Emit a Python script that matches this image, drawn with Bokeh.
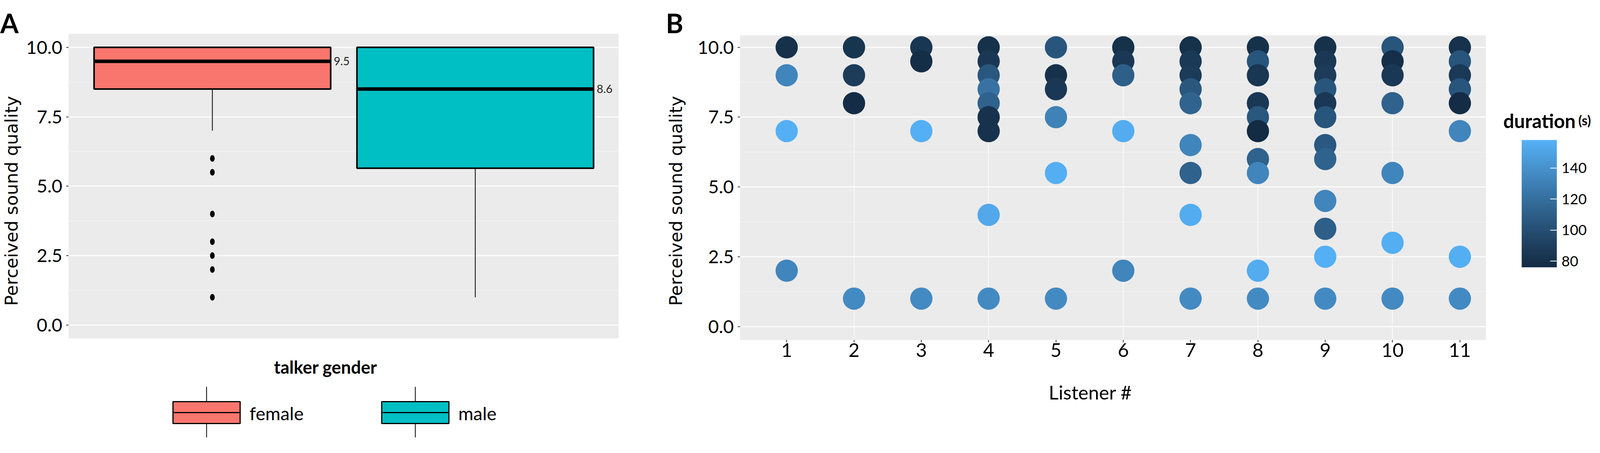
import numpy as np
from bokeh.plotting import figure
from bokeh.models import (Range1d, FixedTicker, PrintfTickFormatter, ColumnDataSource,
                          LinearColorMapper, ColorBar)
from bokeh.layouts import row, column
from bokeh.embed import file_html
from bokeh.resources import INLINE
from bokeh.core.properties import value
from bokeh.transform import transform

# ---------------- Panel A data (box plot summary) ----------------
genders = ["female", "male"]
box_colors = ["#F8766D", "#00BFC4"]
q1 = [8.5, 5.65]
medians = [9.5, 8.5]
q3 = [10.0, 10.0]
whisker_low = [7.0, 1.0]
whisker_high = [10.0, 10.0]
median_labels = ["9.5", "8.6"]
female_outliers = [6.0, 5.5, 4.0, 3.0, 2.5, 2.0, 1.0]

# ---------------- Panel B data ----------------
listener = [1, 1, 1, 1,
            2, 2, 2, 2,
            3, 3, 3, 3,
            4, 4, 4, 4, 4, 4, 4, 4, 4,
            5, 5, 5, 5, 5, 5,
            6, 6, 6, 6, 6,
            7, 7, 7, 7, 7, 7, 7, 7, 7,
            8, 8, 8, 8, 8, 8, 8, 8, 8, 8,
            9, 9, 9, 9, 9, 9, 9, 9, 9, 9, 9, 9,
            10, 10, 10, 10, 10, 10, 10,
            11, 11, 11, 11, 11, 11, 11, 11]
quality = [10, 9, 7, 2,
           10, 9, 8, 1,
           10, 9.5, 7, 1,
           10, 9.5, 9, 8.5, 8, 7.5, 7, 4, 1,
           10, 9, 8.5, 7.5, 5.5, 1,
           10, 9.5, 9, 7, 2,
           10, 9.5, 9, 8.5, 8, 6.5, 5.5, 4, 1,
           10, 9.5, 9, 8, 7.5, 7, 6, 5.5, 2, 1,
           10, 9.5, 9, 8.5, 8, 7.5, 6.5, 6, 4.5, 3.5, 2.5, 1,
           10, 9.5, 9, 8, 5.5, 3, 1,
           10, 9.5, 9, 8.5, 8, 7, 2.5, 1]
duration = [80, 133, 157, 133,
            83, 88, 77, 136,
            84, 78, 157, 136,
            80, 85, 105, 122, 112, 81, 81, 153, 136,
            104, 80, 85, 131, 156, 136,
            80, 85, 110, 155, 133,
            80, 86, 87, 105, 113, 133, 112, 155, 136,
            80, 104, 84, 85, 105, 76, 112, 133, 155, 136,
            80, 85, 88, 104, 85, 104, 106, 112, 133, 110, 157, 136,
            104, 79, 85, 112, 133, 156, 136,
            81, 104, 86, 104, 77, 133, 156, 136]
listener_ticks = list(range(1, 12))
listener_grid = [2, 4, 6, 8, 10]
quality_ticks = [0, 2.5, 5, 7.5, 10]
quality_minor = [1.25, 3.75, 6.25, 8.75]
duration_ticks = [80, 100, 120, 140]
duration_limits = (76, 158)
panel_letters = ["A", "B"]
y_title = "Perceived sound quality"
x_title_B = "Listener #"
legend_title_A = "talker gender"
colorbar_title = ["duration", "(s)"]


# ---------------- ggplot-like gradient (Lab interpolation) ----------------
def _lab_palette(c0, c1, n=256):
    M = np.array([[0.4124, 0.3576, 0.1805], [0.2126, 0.7152, 0.0722], [0.0193, 0.1192, 0.9505]])
    Mi = np.linalg.inv(M)
    wn = M @ np.ones(3)
    d = 6 / 29

    def to_lab(h):
        c = np.array([int(h[i:i + 2], 16) for i in (1, 3, 5)]) / 255
        c = np.where(c <= 0.04045, c / 12.92, ((c + 0.055) / 1.055) ** 2.4)
        xyz = (M @ c) / wn
        f = np.where(xyz > d ** 3, np.cbrt(xyz), xyz / (3 * d * d) + 4 / 29)
        return np.array([116 * f[1] - 16, 500 * (f[0] - f[1]), 200 * (f[1] - f[2])])

    def to_hex(lab):
        fy = (lab[0] + 16) / 116
        f = np.array([fy + lab[1] / 500, fy, fy - lab[2] / 200])
        xyz = np.where(f > d, f ** 3, 3 * d * d * (f - 4 / 29)) * wn
        c = np.clip(Mi @ xyz, 0, 1)
        c = np.where(c <= 0.0031308, 12.92 * c, 1.055 * c ** (1 / 2.4) - 0.055)
        c = np.clip(np.round(c * 255), 0, 255).astype(int)
        return "#%02x%02x%02x" % tuple(c)

    a, b = to_lab(c0), to_lab(c1)
    return [to_hex(a + (b - a) * t) for t in np.linspace(0, 1, n)]


palette = _lab_palette("#132B43", "#56B1F7")

BG = "#EBEBEB"
TICK_FONT = "Lato"
LABEL_FONT = "DejaVu Sans"
SVG = dict(output_backend="svg", toolbar_location=None, frame_align=False)


def blank(width, height):
    """A plain drawing area whose data units are pixels (headers, side titles, legends)."""
    f = figure(width=width, height=height, x_range=Range1d(0, width), y_range=Range1d(0, height),
               min_border=0, **SVG)
    f.axis.visible = False
    f.grid.visible = False
    f.outline_line_color = None
    f.background_fill_color = "white"
    f.border_fill_color = "white"
    return f


def side_title(width, height, x, y):
    f = blank(width, height)
    f.text(x=[x], y=[y], text=[y_title], angle=np.pi / 2, text_align="center", text_baseline="middle",
           text_font=value(LABEL_FONT), text_font_size="45px", text_color="black")
    return f


def style_y(p):
    tk = FixedTicker(ticks=quality_ticks, minor_ticks=quality_minor)
    p.yaxis.ticker = tk
    p.ygrid.ticker = tk
    p.yaxis.formatter = PrintfTickFormatter(format="%.1f")
    p.yaxis.major_label_text_font = TICK_FONT
    p.yaxis.major_label_text_font_size = "47px"
    p.yaxis.major_label_text_color = "black"
    p.yaxis.major_label_standoff = 10
    p.yaxis.axis_line_color = None
    p.yaxis.major_tick_line_color = "#333333"
    p.yaxis.major_tick_line_width = 2
    p.yaxis.major_tick_out = 6
    p.yaxis.major_tick_in = 0
    p.yaxis.minor_tick_line_color = None
    p.ygrid.grid_line_color = "white"
    p.ygrid.grid_line_width = 2.5
    p.ygrid.minor_grid_line_color = "white"
    p.ygrid.minor_grid_line_alpha = 0.6
    p.ygrid.minor_grid_line_width = 1.2
    p.background_fill_color = BG
    p.border_fill_color = "white"
    p.outline_line_color = None


# ---------------- Panel A ----------------
headA = blank(1660, 86)
headA.text(x=[0], y=[28], text=[panel_letters[0]], text_baseline="alphabetic", text_align="left",
           text_font=value(TICK_FONT), text_font_style="bold", text_font_size="68px", text_color="black")

leftA = side_title(62, 789, 29, 361)
pA = figure(width=1598, height=789, x_range=Range1d(0.453, 2.545), y_range=Range1d(-0.48, 10.49),
            min_border_left=113, min_border_right=77, min_border_top=0, min_border_bottom=9, **SVG)
style_y(pA)
pA.xaxis.visible = False
pA.xgrid.visible = False

xs = [i + 1 for i in range(len(genders))]
box_w = 0.9
srcA = ColumnDataSource(dict(x=xs, q1=q1, q3=q3, med=medians, lo=whisker_low, hi=whisker_high,
                             color=box_colors, x0=[x - box_w / 2 for x in xs],
                             x1=[x + box_w / 2 for x in xs], lab=median_labels))
pA.segment(x0="x", y0="lo", x1="x", y1="q1", source=srcA, line_color="black", line_width=2)
pA.segment(x0="x", y0="q3", x1="x", y1="hi", source=srcA, line_color="black", line_width=2)
pA.vbar(x="x", width=box_w, bottom="q1", top="q3", source=srcA, fill_color="color",
        line_color="black", line_width=4)
pA.segment(x0="x0", y0="med", x1="x1", y1="med", source=srcA, line_color="black", line_width=9)
pA.text(x="x1", y="med", text="lab", source=srcA, x_offset=8, text_baseline="middle",
        text_align="left", text_font=value(TICK_FONT), text_font_size="29px", text_color="#222222")
pA.ellipse(x=[xs[0]] * len(female_outliers), y=female_outliers, width=12, height=17,
           width_units="screen", height_units="screen", fill_color="black", line_color=None)

# legend of panel A (drawn below it)
LW, LH = 1660, 245
leg = blank(LW, LH)
key_cx = [528.3 + i * 534.4 for i in range(len(genders))]
key_half = 86
srcL = ColumnDataSource(dict(cx=key_cx, l=[c - key_half for c in key_cx], r=[c + key_half for c in key_cx],
                             color=box_colors, tx=[c + 110 for c in key_cx], lab=genders))
leg.segment(x0="cx", y0=0, x1="cx", y1=36, source=srcL, line_color="black", line_width=2)
leg.segment(x0="cx", y0=92, x1="cx", y1=130, source=srcL, line_color="black", line_width=2)
leg.quad(left="l", right="r", bottom=36, top=92, source=srcL, fill_color="color",
         line_color="black", line_width=3)
leg.segment(x0="l", y0=64, x1="r", y1=64, source=srcL, line_color="black", line_width=3)
leg.text(x="tx", y=63, text="lab", source=srcL, text_baseline="middle", text_align="left",
         text_font=value(TICK_FONT), text_font_size="47px", text_color="black")
leg.text(x=[833], y=[181], text=[legend_title_A], text_baseline="middle", text_align="center",
         text_font=value(TICK_FONT), text_font_style="bold", text_font_size="45px", text_color="black")

# ---------------- Panel B ----------------
headB = blank(2144, 90)
headB.text(x=[44], y=[32], text=[panel_letters[1]], text_baseline="alphabetic", text_align="left",
           text_font=value(TICK_FONT), text_font_style="bold", text_font_size="68px", text_color="black")

leftB = side_title(100, 855, 70, 431)
pB = figure(width=2044, height=855, x_range=Range1d(0.307, 11.39), y_range=Range1d(-0.48, 10.43),
            min_border_left=134, min_border_right=0, min_border_top=0, min_border_bottom=75, **SVG)
style_y(pB)
pB.xaxis.ticker = FixedTicker(ticks=listener_ticks)
pB.xgrid.ticker = FixedTicker(ticks=listener_grid)
pB.xgrid.grid_line_color = "white"
pB.xgrid.grid_line_width = 1.5
pB.xaxis.major_label_text_font = TICK_FONT
pB.xaxis.major_label_text_font_size = "49px"
pB.xaxis.major_label_text_color = "black"
pB.xaxis.major_label_standoff = 2
pB.xaxis.axis_line_color = None
pB.xaxis.major_tick_line_color = "#333333"
pB.xaxis.major_tick_line_width = 2
pB.xaxis.major_tick_out = 6
pB.xaxis.major_tick_in = 0
pB.xaxis.minor_tick_line_color = None

mapper = LinearColorMapper(palette=palette, low=duration_limits[0], high=duration_limits[1])
srcB = ColumnDataSource(dict(listener=listener, quality=quality, duration=duration))
pB.scatter(x="listener", y="quality", source=srcB, size=57,
           fill_color=transform("duration", mapper), line_color=None)

footB = blank(2144, 175)
footB.text(x=[1131], y=[117], text=[x_title_B], text_baseline="middle", text_align="center",
           text_font=value(TICK_FONT), text_font_size="49px", text_color="black")

# colour-bar area
pC = blank(280, 1120)
pC.text(x=[44], y=[812], text=[colorbar_title[0]], text_baseline="alphabetic", text_align="left",
        text_font=value(TICK_FONT), text_font_style="bold", text_font_size="49px", text_color="black")
pC.text(x=[236], y=[813], text=[colorbar_title[1]], text_baseline="alphabetic", text_align="left",
        text_font=value(TICK_FONT), text_font_style="bold", text_font_size="34px", text_color="black")
cb = ColorBar(color_mapper=mapper, ticker=FixedTicker(ticks=duration_ticks), width=90, height=326,
              location=(91, 436), major_label_text_font=TICK_FONT, major_label_text_font_size="37px",
              major_label_text_color="black", major_tick_line_color="white", major_tick_line_width=2,
              major_tick_in=17, major_tick_out=0, minor_tick_line_color=None, bar_line_color=None,
              label_standoff=12, margin=0, padding=0, background_fill_color=None)
pC.add_layout(cb, "center")

layout = row(column(headA, row(leftA, pA), leg),
             column(headB, row(leftB, pB), footB),
             pC)
open("out.html", "w").write(file_html(layout, INLINE))
